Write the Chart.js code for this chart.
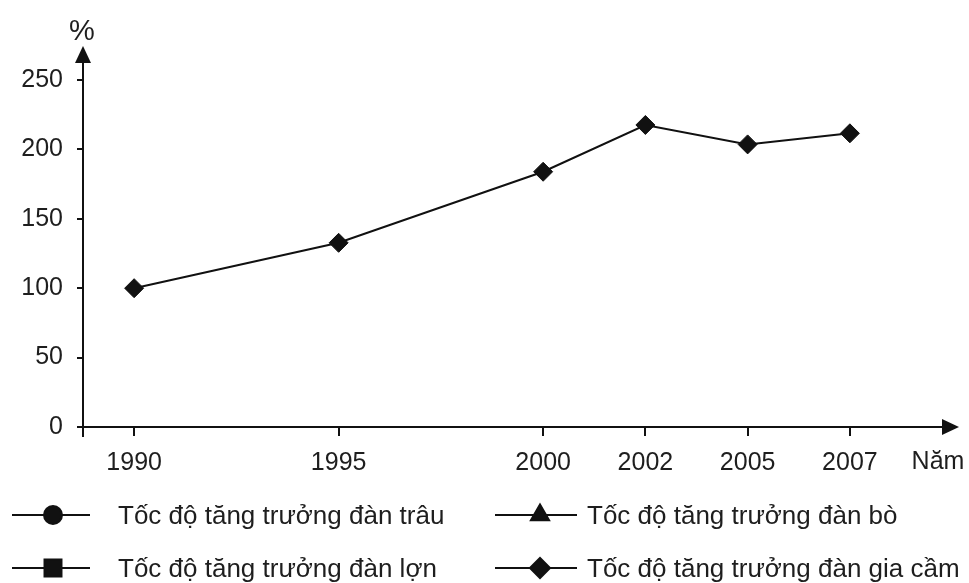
<!DOCTYPE html>
<html lang="vi">
<head>
<meta charset="utf-8">
<title>Tốc độ tăng trưởng đàn gia súc, gia cầm</title>
<script src="https://cdn.jsdelivr.net/npm/chart.js@4"></script>
<style>
  html, body { margin: 0; padding: 0; background: #fff; }
  #wrap { width: 969px; height: 583px; }
</style>
</head>
<body>
<div id="wrap"><canvas id="c" width="969" height="583"></canvas></div>
<script>
// Năm trên trục hoành; ô trống giữ cho khoảng 5 năm rộng gấp đôi
const axisSlots = ['1990', '', '1995', '', '2000', '2002', '2005', '2007'];
const years = ['1990', '1995', '2000', '2002', '2005', '2007'];
const yTicks = [0, 50, 100, 150, 200, 250];

// Chuỗi số liệu (%), năm 1990 = 100
const trau = [];
const bo = [];
const lon = [];
const giaCam = [100, 132.7, 183.9, 217.6, 203.6, 211.6];

const seriesNames = [
  'Tốc độ tăng trưởng đàn trâu',
  'Tốc độ tăng trưởng đàn bò',
  'Tốc độ tăng trưởng đàn lợn',
  'Tốc độ tăng trưởng đàn gia cầm'
];

const FONT = '"Liberation Sans", Arial, Helvetica, sans-serif';
const INK = '#111';
const TEXT = '#1e1e1e';

function series(label, values, style) {
  return {
    label,
    data: values.map((v, i) => ({ x: years[i], y: v })),
    pointStyle: style,
    borderColor: INK,
    backgroundColor: INK,
    borderWidth: 2,
    pointRadius: 9.5,
    pointBorderWidth: 1,
    pointBackgroundColor: INK,
    pointBorderColor: INK,
    tension: 0,
    spanGaps: true
  };
}

// Trục có mũi tên, nhãn "%" / "Năm" và chú giải hai cột
const legendRadius = { circle: 9, triangle: 10.5, rect: 12, rectRot: 10 };
const axesAndLegend = {
  id: 'axesAndLegend',
  afterDraw(chart) {
    const { ctx, chartArea: a, scales: { y } } = chart;
    const x0 = a.left;
    const y0 = y.getPixelForValue(0);
    ctx.save();
    ctx.strokeStyle = INK;
    ctx.fillStyle = INK;
    ctx.lineWidth = 2;

    // trục tung
    ctx.beginPath();
    ctx.moveTo(x0, y0 + 10);
    ctx.lineTo(x0, a.top - 18);
    ctx.stroke();
    ctx.beginPath();
    ctx.moveTo(x0, a.top - 34);
    ctx.lineTo(x0 - 8, a.top - 17);
    ctx.lineTo(x0 + 8, a.top - 17);
    ctx.closePath();
    ctx.fill();

    // trục hoành
    ctx.beginPath();
    ctx.moveTo(x0 - 2, y0);
    ctx.lineTo(a.right + 42, y0);
    ctx.stroke();
    ctx.beginPath();
    ctx.moveTo(a.right + 58, y0);
    ctx.lineTo(a.right + 41, y0 - 8);
    ctx.lineTo(a.right + 41, y0 + 8);
    ctx.closePath();
    ctx.fill();

    ctx.fillStyle = TEXT;
    ctx.textAlign = 'center';
    ctx.textBaseline = 'middle';
    ctx.font = '29px ' + FONT;
    ctx.fillText('%', x0 - 1, a.top - 48);
    ctx.font = '25px ' + FONT;
    ctx.fillText('Năm', a.right + 37, y0 + 35);

    // chú giải
    const cols = [
      { line: [12, 90], mark: 53, text: 118 },
      { line: [495, 577], mark: 540, text: 587 }
    ];
    const rows = [515, 568];
    ctx.font = '26px ' + FONT;
    chart.data.datasets.forEach((ds, i) => {
      const c = cols[i % 2];
      const ry = rows[Math.floor(i / 2)];
      ctx.strokeStyle = INK;
      ctx.fillStyle = INK;
      ctx.lineWidth = 2;
      ctx.beginPath();
      ctx.moveTo(c.line[0], ry);
      ctx.lineTo(c.line[1], ry);
      ctx.stroke();
      Chart.helpers.drawPoint(ctx, {
        pointStyle: ds.pointStyle,
        radius: legendRadius[ds.pointStyle],
        rotation: 0,
        borderWidth: 1
      }, c.mark, ry);
      ctx.fillStyle = TEXT;
      ctx.textAlign = 'left';
      ctx.textBaseline = 'middle';
      ctx.fillText(ds.label, c.text, ry + 2);
    });
    ctx.restore();
  }
};

new Chart(document.getElementById('c'), {
  type: 'line',
  data: {
    labels: axisSlots,
    datasets: [
      series(seriesNames[0], trau, 'circle'),
      series(seriesNames[1], bo, 'triangle'),
      series(seriesNames[2], lon, 'rect'),
      series(seriesNames[3], giaCam, 'rectRot')
    ]
  },
  options: {
    responsive: false,
    animation: false,
    devicePixelRatio: 1,
    layout: { padding: { top: 80, right: 68, left: 0, bottom: 0 } },
    plugins: { legend: { display: false }, tooltip: { enabled: false } },
    scales: {
      x: {
        type: 'category',
        offset: true,
        border: { display: false },
        grid: {
          drawOnChartArea: false,
          offset: false,
          tickLength: 9,
          lineWidth: 2,
          color: c => (c.tick && c.tick.label) ? INK : 'rgba(0,0,0,0)'
        },
        ticks: {
          autoSkip: false,
          maxRotation: 0,
          padding: 12,
          color: TEXT,
          font: { family: FONT, size: 25 }
        },
        afterFit: s => { s.height = 156; }
      },
      y: {
        min: yTicks[0],
        max: yTicks[yTicks.length - 1],
        border: { display: false },
        afterBuildTicks: s => { s.ticks = yTicks.map(v => ({ value: v })); },
        grid: { drawOnChartArea: false, tickLength: 6, lineWidth: 2, color: INK },
        ticks: { padding: 14, color: TEXT, font: { family: FONT, size: 25 } },
        afterFit: s => { s.width = 83; }
      }
    }
  },
  plugins: [axesAndLegend]
});
</script>
</body>
</html>
